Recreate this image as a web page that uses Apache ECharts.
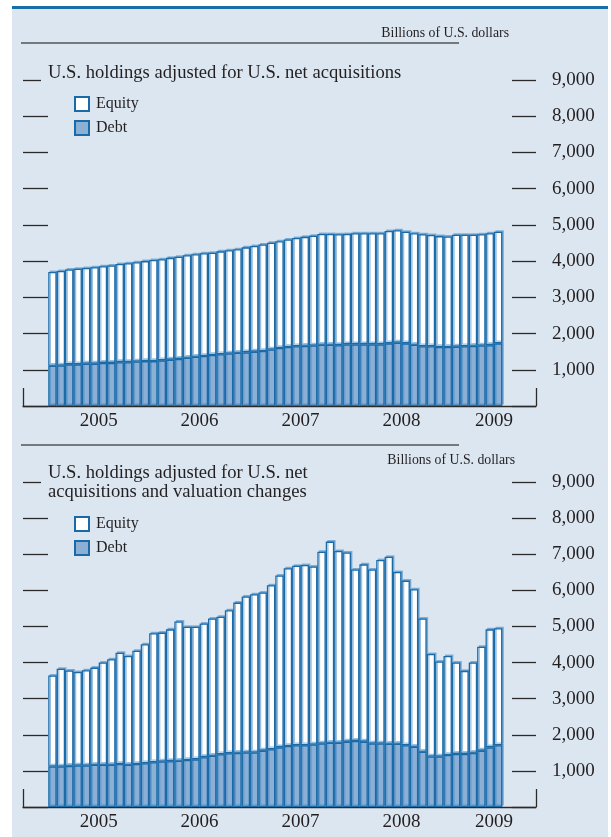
<!DOCTYPE html>
<html>
<head>
<meta charset="utf-8">
<script src="https://cdn.jsdelivr.net/npm/echarts@6/dist/echarts.min.js"></script>
<style>
html, body { margin: 0; padding: 0; background: #fff; }
#chart { width: 611px; height: 837px; }
</style>
</head>
<body>
<div id="chart"></div>
<script>
// monthly values, Jan 2005 - Jun 2009, billions of U.S. dollars
var netDebt = [1110, 1120, 1150, 1150, 1170, 1170, 1190, 1190, 1210, 1210, 1230, 1240,
  1240, 1260, 1280, 1300, 1330, 1360, 1380, 1410, 1430, 1450, 1470, 1480,
  1500, 1520, 1560, 1600, 1630, 1650, 1660, 1670, 1690, 1690, 1680, 1700,
  1700, 1700, 1700, 1700, 1730, 1750, 1730, 1690, 1650, 1650, 1630, 1630,
  1640, 1650, 1660, 1670, 1680, 1730];
var netEquity = [2590, 2610, 2620, 2640, 2640, 2660, 2670, 2690, 2710, 2730, 2740, 2760,
  2790, 2790, 2810, 2820, 2830, 2830, 2840, 2820, 2840, 2850, 2860, 2900,
  2920, 2940, 2950, 2950, 2970, 2990, 3010, 3030, 3060, 3060, 3060, 3050,
  3070, 3070, 3070, 3070, 3100, 3100, 3080, 3080, 3090, 3070, 3060, 3050,
  3090, 3080, 3070, 3070, 3090, 3080];
var valDebt = [1120, 1120, 1140, 1150, 1150, 1170, 1170, 1170, 1190, 1170, 1190, 1210,
  1240, 1260, 1270, 1280, 1300, 1320, 1380, 1420, 1460, 1490, 1500, 1510,
  1510, 1560, 1600, 1650, 1690, 1710, 1710, 1730, 1760, 1780, 1780, 1810,
  1830, 1810, 1760, 1760, 1750, 1750, 1710, 1670, 1530, 1400, 1400, 1440,
  1470, 1470, 1500, 1560, 1650, 1710];
var valEquity = [2520, 2710, 2640, 2590, 2640, 2690, 2830, 2920, 3080, 3010, 3140, 3300,
  3570, 3570, 3650, 3860, 3690, 3670, 3700, 3800, 3810, 3960, 4160, 4320,
  4380, 4380, 4540, 4760, 4920, 4970, 4990, 4930, 5310, 5570, 5310, 5240,
  4750, 4910, 4820, 5080, 5180, 4760, 4560, 4360, 3690, 2840, 2630, 2740,
  2530, 2300, 2500, 2880, 3270, 3240];
var yearLabels = ['2005', '2006', '2007', '2008', '2009'];
var yearLabelPos = [18, 42, 66, 90, 112]; // half-month steps along the axis
var yTicks = [0, 1000, 2000, 3000, 4000, 5000, 6000, 7000, 8000, 9000];

// axis runs Oct 2004 - Oct 2009, bars only where data exist
var months = [];
for (var y = 2004; y <= 2009; y++) {
  for (var m = 1; m <= 12; m++) {
    if ((y === 2004 && m < 10) || (y === 2009 && m > 10)) continue;
    months.push(y + '-' + (m < 10 ? '0' + m : m));
  }
}
var halfSteps = [];
for (var i = 0; i <= 122; i++) halfSteps.push(String(i));

function pad(arr) {
  return ['-', '-', '-'].concat(arr, ['-', '-', '-', '-']);
}
function comma(v) {
  return v === 0 ? '' : String(v).replace(/\B(?=(\d{3})+(?!\d))/g, ',');
}

var serif = 'Liberation Serif';
var ink = '#231f20';
var edge = '#1b6aa8';
var tickStyle = { color: '#2a2a2a', width: 1.3 };

function monthAxis(grid) {
  return {
    type: 'category', gridIndex: grid, data: months, position: 'bottom',
    axisLine: { lineStyle: tickStyle },
    axisTick: {
      inside: true, length: 14, lineStyle: tickStyle,
      interval: function (idx, val) { return /-01$/.test(val) && val <= '2009-01'; }
    },
    axisLabel: { show: false }
  };
}
function yearAxis(grid) {
  return {
    type: 'category', gridIndex: grid, data: halfSteps, boundaryGap: false,
    position: 'bottom', offset: 0,
    axisLine: { show: false },
    axisTick: {
      inside: true, length: 18, lineStyle: tickStyle,
      interval: function (idx) { return idx === 0 || idx === 122; }
    },
    axisLabel: {
      margin: 6, fontFamily: serif, fontSize: 19, color: ink,
      interval: function (idx) { return yearLabelPos.indexOf(idx) >= 0; },
      formatter: function (v, idx) {
        var k = yearLabelPos.indexOf(idx);
        return k >= 0 ? yearLabels[k] : '';
      }
    }
  };
}
// side: left ticks (all but the top one), left top tick (shorter), right ticks + labels
function valueAxis(grid, side) {
  var ax = {
    type: 'value', gridIndex: grid, position: side === 'right' ? 'right' : 'left',
    min: 0, max: 9000, interval: 1000,
    splitLine: { show: false },
    axisLine: { show: false },
    axisTick: { show: true, inside: true, length: 24, lineStyle: tickStyle },
    axisLabel: { show: false }
  };
  if (side === 'left') {
    ax.axisTick.length = 25;
    ax.axisTick.customValues = yTicks.slice(0, -1);
  } else if (side === 'leftTop') {
    ax.axisTick.length = 18;
    ax.axisTick.customValues = yTicks.slice(-1);
  } else {
    ax.axisLabel = { margin: 16, fontFamily: serif, fontSize: 19, color: ink, formatter: comma };
  }
  return ax;
}
function barSeries(name, grid, stack, data, fill) {
  return {
    name: name, type: 'bar', stack: stack, xAxisIndex: grid * 2, yAxisIndex: grid * 3,
    data: pad(data), barCategoryGap: '0%',
    itemStyle: {
      color: fill, borderColor: edge, borderWidth: 1.3,
      shadowColor: 'rgba(70,140,200,0.55)', shadowOffsetX: 1.5, shadowOffsetY: -1.5, shadowBlur: 0
    }
  };
}
function legend(top) {
  return {
    orient: 'vertical', left: 69, top: top, icon: 'rect',
    itemWidth: 14, itemHeight: 14, itemGap: 8,
    data: ['Equity', 'Debt'],
    itemStyle: { shadowBlur: 0, shadowOffsetX: 0, shadowOffsetY: 0, shadowColor: 'transparent' },
    textStyle: { fontFamily: serif, fontSize: 16, color: ink, padding: [0, 0, 0, 2] }
  };
}

var chart = echarts.init(document.getElementById('chart'));
chart.setOption({
  animation: false,
  backgroundColor: '#fff',
  graphic: [
    { type: 'rect', z: -10, shape: { x: 12, y: 6, width: 596, height: 831 }, style: { fill: '#dce6f0' } },
    { type: 'rect', z: -9, shape: { x: 12, y: 6, width: 596, height: 3 }, style: { fill: '#1a6ea8' } },
    { type: 'line', shape: { x1: 21, y1: 43, x2: 459, y2: 43 }, style: { stroke: '#555', lineWidth: 1.3 } },
    { type: 'line', shape: { x1: 21, y1: 445, x2: 459, y2: 445 }, style: { stroke: '#555', lineWidth: 1.3 } }
  ],
  title: [
    { text: 'Billions of U.S. dollars', right: 97, top: 21,
      textStyle: { fontFamily: serif, fontSize: 13.8, fontWeight: 'normal', color: ink } },
    { text: 'U.S. holdings adjusted for U.S. net acquisitions', left: 43, top: 59,
      textStyle: { fontFamily: serif, fontSize: 18.6, fontWeight: 'normal', color: ink } },
    { text: 'Billions of U.S. dollars', right: 91, top: 448,
      textStyle: { fontFamily: serif, fontSize: 13.8, fontWeight: 'normal', color: ink } },
    { text: 'U.S. holdings adjusted for U.S. net\nacquisitions and valuation changes', left: 43, top: 459,
      textStyle: { fontFamily: serif, fontSize: 18.6, lineHeight: 19, fontWeight: 'normal', color: ink } }
  ],
  legend: [legend(91), legend(511)],
  grid: [
    { left: 23, right: 75, top: 80, height: 326 },
    { left: 23, right: 75, top: 482, height: 325 }
  ],
  xAxis: [monthAxis(0), yearAxis(0), monthAxis(1), yearAxis(1)],
  yAxis: [
    valueAxis(0, 'left'), valueAxis(0, 'leftTop'), valueAxis(0, 'right'),
    valueAxis(1, 'left'), valueAxis(1, 'leftTop'), valueAxis(1, 'right')
  ],
  series: [
    barSeries('Debt', 0, 'net', netDebt, '#8cafd5'),
    barSeries('Equity', 0, 'net', netEquity, '#ffffff'),
    barSeries('Debt', 1, 'val', valDebt, '#8cafd5'),
    barSeries('Equity', 1, 'val', valEquity, '#ffffff')
  ]
});
</script>
</body>
</html>
